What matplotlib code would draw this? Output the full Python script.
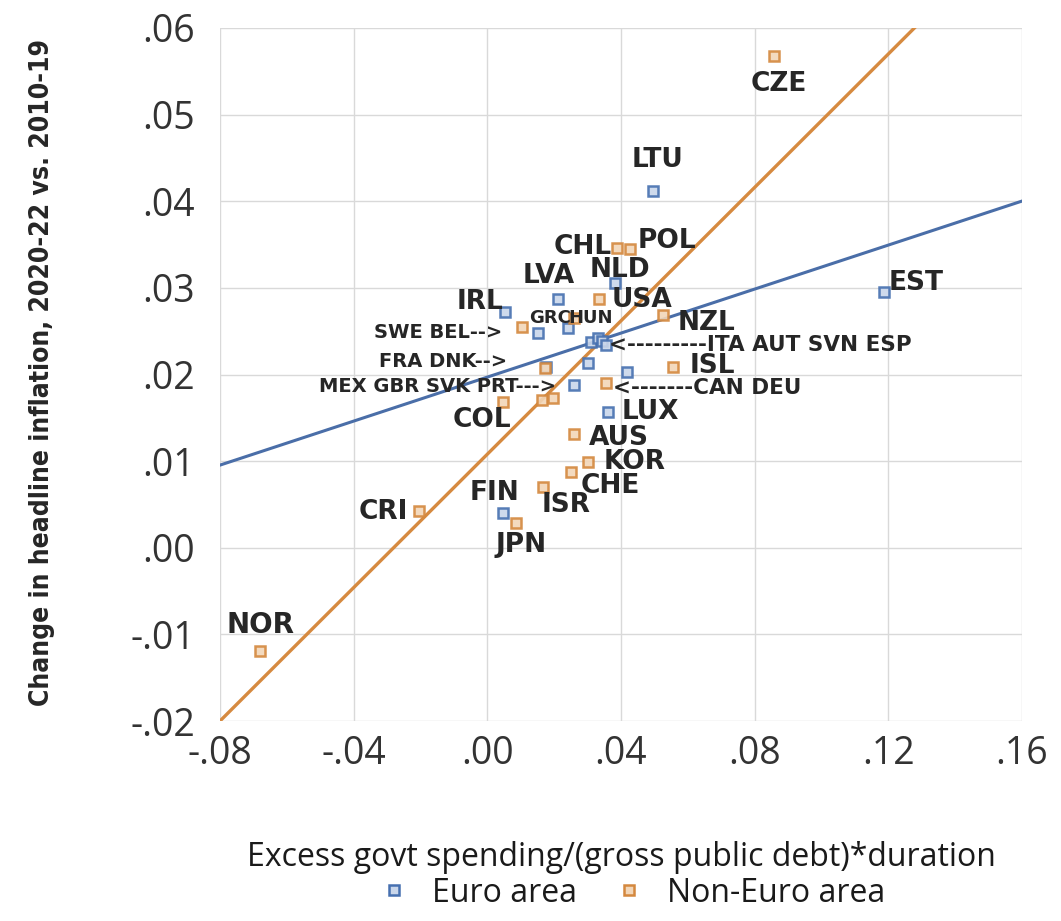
import matplotlib
matplotlib.use("Agg")
import matplotlib.pyplot as plt
import numpy as np
from matplotlib.lines import Line2D

# --- DATA ---
euro_codes = ["LTU", "EST", "NLD", "LVA", "IRL", "GRC", "BEL", "ITA", "AUT",
              "SVN", "ESP", "DEU", "SVK", "PRT", "LUX", "FIN", "FRA"]
euro_x = [0.0497, 0.1186, 0.0383, 0.0210, 0.0054, 0.0240, 0.0153, 0.0309, 0.0330,
          0.0342, 0.0354, 0.0419, 0.0258, 0.0300, 0.0360, 0.0048, 0.0177]
euro_y = [0.0412, 0.0295, 0.0306, 0.0287, 0.0272, 0.0254, 0.0248, 0.0238, 0.0242,
          0.0239, 0.0234, 0.0203, 0.0188, 0.0213, 0.0157, 0.0040, 0.0209]

non_codes = ["CZE", "CHL", "POL", "USA", "HUN", "NZL", "SWE", "DNK", "ISL", "CAN",
             "MEX", "GBR", "COL", "AUS", "KOR", "CHE", "ISR", "JPN", "CRI", "NOR"]
non_x = [0.0857, 0.0389, 0.0428, 0.0333, 0.0258, 0.0527, 0.0105, 0.0174, 0.0557, 0.0354,
         0.0165, 0.0198, 0.0048, 0.0258, 0.0300, 0.0249, 0.0168, 0.0087, -0.0204, -0.0680]
non_y = [0.0568, 0.0346, 0.0345, 0.0287, 0.0265, 0.0269, 0.0255, 0.0208, 0.0209, 0.0190,
         0.0171, 0.0173, 0.0168, 0.0131, 0.0099, 0.0088, 0.0070, 0.0029, 0.0043, -0.0119]

# linear trend lines as drawn in the chart (slope, intercept)
euro_trend = (0.127, 0.0197)
non_trend = (0.385, 0.0108)

x_ticks = [-0.08, -0.04, 0.00, 0.04, 0.08, 0.12, 0.16]
y_ticks = [-0.02, -0.01, 0.00, 0.01, 0.02, 0.03, 0.04, 0.05, 0.06]

x_title = "Excess govt spending/(gross public debt)*duration"
y_title = "Change in headline inflation, 2020-22 vs. 2010-19"
series_names = ["Euro area", "Non-Euro area"]

# --- LABEL PLACEMENT (offset in pixels from the marker) ---
label_offsets = {
    "CZE": (5, -28), "LTU": (4, 31), "EST": (32, 9), "NLD": (5, 13),
    "LVA": (-9, 23), "IRL": (-25, 10), "LUX": (43, 0), "FIN": (-9, 20),
    "CHL": (-35, 1), "POL": (37, 8), "USA": (43, -1), "NZL": (43, -8),
    "ISL": (39, 1), "COL": (-21, -18), "AUS": (45, -4), "KOR": (47, 0),
    "CHE": (40, -14), "ISR": (23, -18), "JPN": (5, -22), "CRI": (-36, -1),
    "NOR": (0, 26),
}
small_labels = {"GRC": (-17, 10), "HUN": (17, 0)}
# grouped labels: (anchor, text, dx, dy, ha, size)
group_labels = [
    ("BEL", "SWE BEL-->", -36, 0, "right", 14),
    ("FRA", "FRA DNK-->", -39, 5, "right", 14),
    ("SVK", "MEX GBR SVK PRT--->", -18, -2, "right", 14),
    ("ESP", "<---------ITA AUT SVN ESP", 3, 0, "left", 15.5),
    ("CAN", "<-------CAN DEU", 7, -5, "left", 15.5),
]

BLUE = "#4670b0"
ORANGE = "#d4883e"
BLUE_LINE = "#4a6ea8"
ORANGE_LINE = "#d68a40"
TXT = "#262626"


def fmt(v):
    s = f"{v:.2f}"
    return s.replace("0.", ".", 1)


def main():
    fig = plt.figure(figsize=(10.61, 9.21), dpi=100)
    ax = fig.add_axes([220 / 1061, 1 - 721 / 921, (1022 - 220) / 1061, (721 - 28) / 921])

    ax.set_xlim(-0.08, 0.16)
    ax.set_ylim(-0.02, 0.06)
    ax.set_xticks(x_ticks)
    ax.set_yticks(y_ticks)
    ax.set_xticklabels([fmt(v) for v in x_ticks])
    ax.set_yticklabels([fmt(v) for v in y_ticks])
    for lab in ax.get_xticklabels() + ax.get_yticklabels():
        lab.set_family("Open Sans")
        lab.set_fontsize(27)
        lab.set_color("#333333")
    ax.tick_params(axis="both", length=0)
    ax.tick_params(axis="y", pad=18)
    ax.tick_params(axis="x", pad=10)
    for sp in ax.spines.values():
        sp.set_visible(False)
    ax.grid(True, color="#d9d9d9", lw=1.0)
    ax.set_axisbelow(True)

    # trend lines
    xs = np.array([-0.08, 0.16])
    ax.plot(xs, euro_trend[0] * xs + euro_trend[1], color=BLUE_LINE, lw=2.2, zorder=2)
    ax.plot(xs, non_trend[0] * xs + non_trend[1], color=ORANGE_LINE, lw=2.4, zorder=2)

    mk = dict(marker="s", ms=7.5, ls="none", mew=1.8, alpha=0.9, zorder=3)
    ax.plot(euro_x, euro_y, mfc="#c9d6ea", mec=BLUE, **mk)
    ax.plot(non_x, non_y, mfc="#f2d6b8", mec=ORANGE, **mk)

    pos = {}
    for c, x, y in zip(euro_codes, euro_x, euro_y):
        pos[c] = (x, y)
    for c, x, y in zip(non_codes, non_x, non_y):
        pos[c] = (x, y)

    for code, (dx, dy) in label_offsets.items():
        ax.annotate(code, pos[code], xytext=(dx, dy), textcoords="offset pixels",
                    ha="center", va="center", fontsize=19 if code != "NOR" else 20,
                    fontweight="bold", color=TXT, family="DejaVu Sans", zorder=4)
    for code, (dx, dy) in small_labels.items():
        ax.annotate(code, pos[code], xytext=(dx, dy), textcoords="offset pixels",
                    ha="center", va="center", fontsize=13,
                    fontweight="bold", color=TXT, family="DejaVu Sans", zorder=4)
    for code, text, dx, dy, ha, size in group_labels:
        ax.annotate(text, pos[code], xytext=(dx, dy), textcoords="offset pixels",
                    ha=ha, va="center", fontsize=size,
                    fontweight="bold", color=TXT, family="DejaVu Sans", zorder=4)

    # axis titles
    fig.text(42 / 1061, 1 - 372 / 921, y_title, rotation=90, ha="center", va="center",
             fontsize=19, fontweight="bold", fontstretch="condensed", color=TXT,
             family="DejaVu Sans")
    fig.text(621 / 1061, 1 - 857 / 921, x_title, ha="center", va="center",
             fontsize=23, color="#1a1a1a", family="Open Sans")

    handles = [
        Line2D([], [], marker="s", ms=7.5, ls="none", mew=1.8, mfc="#c9d6ea", mec=BLUE),
        Line2D([], [], marker="s", ms=7.5, ls="none", mew=1.8, mfc="#f2d6b8", mec=ORANGE),
    ]
    leg = fig.legend(handles, series_names, loc="center", ncol=2,
                     bbox_to_anchor=(630 / 1061, 1 - 893 / 921), frameon=False,
                     prop={"family": "Open Sans", "size": 23},
                     handletextpad=0.6, columnspacing=1.0, handlelength=1.2)
    for t in leg.get_texts():
        t.set_color("#1a1a1a")

    fig.savefig("out.png", dpi=100, facecolor="white")


if __name__ == "__main__":
    main()
